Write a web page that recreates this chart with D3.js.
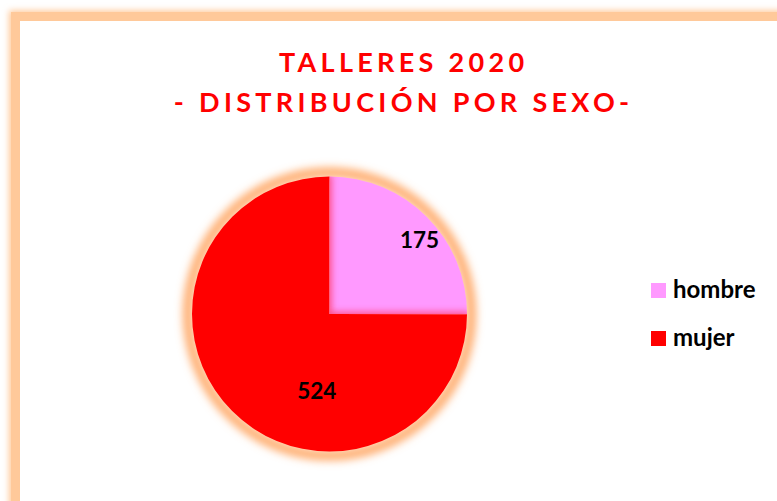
<!DOCTYPE html>
<html><head><meta charset="utf-8">
<script src="https://cdn.jsdelivr.net/npm/d3@7"></script>
<style>html,body{margin:0;padding:0;background:#fff;overflow:hidden}</style>
</head><body>
<script>
const categories = ["hombre", "mujer"];
const values = [175, 524];
const colors = ["#FF99FF", "#FF0000"];
const titleLines = ["TALLERES 2020", "- DISTRIBUCIÓN POR SEXO-"];

const W = 777, H = 501;
const svg = d3.select("body").append("svg").attr("width", W).attr("height", H);
const defs = svg.append("defs");
defs.append("filter").attr("id","blurF").attr("x","-20%").attr("y","-20%").attr("width","140%").attr("height","140%")
  .append("feGaussianBlur").attr("stdDeviation", 3);
defs.append("filter").attr("id","blurP").attr("x","-20%").attr("y","-20%").attr("width","140%").attr("height","140%")
  .append("feGaussianBlur").attr("stdDeviation", 4);
defs.append("filter").attr("id","blurS").attr("x","-20%").attr("y","-20%").attr("width","140%").attr("height","140%")
  .append("feGaussianBlur").attr("stdDeviation", 3.5);

// frame glow + border
svg.append("rect").attr("x",15).attr("y",16.5).attr("width",820).attr("height",540)
  .attr("fill","none").attr("stroke","#FFC99A").attr("stroke-width",12).attr("filter","url(#blurF)");
svg.append("rect").attr("x",15.5).attr("y",16.5).attr("width",820).attr("height",540)
  .attr("fill","#fff").attr("stroke","#FFC99A").attr("stroke-width",9);

// title
const ls = 4.3;
const title = svg.append("text").attr("text-anchor","middle")
  .style("font-family","Lato, 'Open Sans', sans-serif").style("font-weight","bold")
  .style("font-size","27px").style("letter-spacing",ls+"px").attr("fill","#FF0000");
titleLines.forEach((t,i)=>{
  title.append("tspan").attr("x",401.5 + ls/2).attr("y",72 + i*40).text(t);
});

// pie
const cx = 329.5, cy = 314, r = 137.5;
const pie = d3.pie().sort(null).value(d=>d)(values);
const arc = d3.arc().innerRadius(0).outerRadius(r);
const g = svg.append("g").attr("transform",`translate(${cx},${cy})`);

g.append("circle").attr("r", r+4).attr("fill","none").attr("stroke","#FFAA6A")
  .attr("stroke-width",10).attr("filter","url(#blurP)");

defs.append("clipPath").attr("id","clipH").append("path").attr("d", arc(pie[0]));

g.selectAll("path.slice").data(pie).enter().append("path").attr("class","slice")
  .attr("d", arc).attr("fill",(d,i)=>colors[i]);

// soft shadow of red slice onto pink slice
g.append("g").attr("clip-path","url(#clipH)")
  .append("path").attr("d", arc(pie[1])).attr("fill","#FF4477").attr("opacity",0.9)
  .attr("stroke","#FF4477").attr("stroke-width",4)
  .attr("filter","url(#blurS)");

// labels
const labelPos = [[ 90, -66], [-12.8, 85]];
g.selectAll("text.lbl").data(pie).enter().append("text").attr("class","lbl")
  .attr("x",(d,i)=>labelPos[i][0]).attr("y",(d,i)=>labelPos[i][1])
  .attr("text-anchor","middle")
  .style("font-family","Lato, 'Open Sans', sans-serif").style("font-weight","bold").style("font-size","22.5px")
  .attr("fill","#000").text(d=>d.data);

// legend
const leg = svg.append("g");
categories.forEach((c,i)=>{
  const y = 283 + i*48;
  leg.append("rect").attr("x",651).attr("y",y).attr("width",15).attr("height",15).attr("fill",colors[i]);
  leg.append("text").attr("x",673).attr("y",y+14.5)
    .style("font-family","Lato, 'Open Sans', sans-serif").style("font-weight","bold").style("font-size","24px")
    .attr("fill","#000").text(c);
});
</script>
</body></html>
